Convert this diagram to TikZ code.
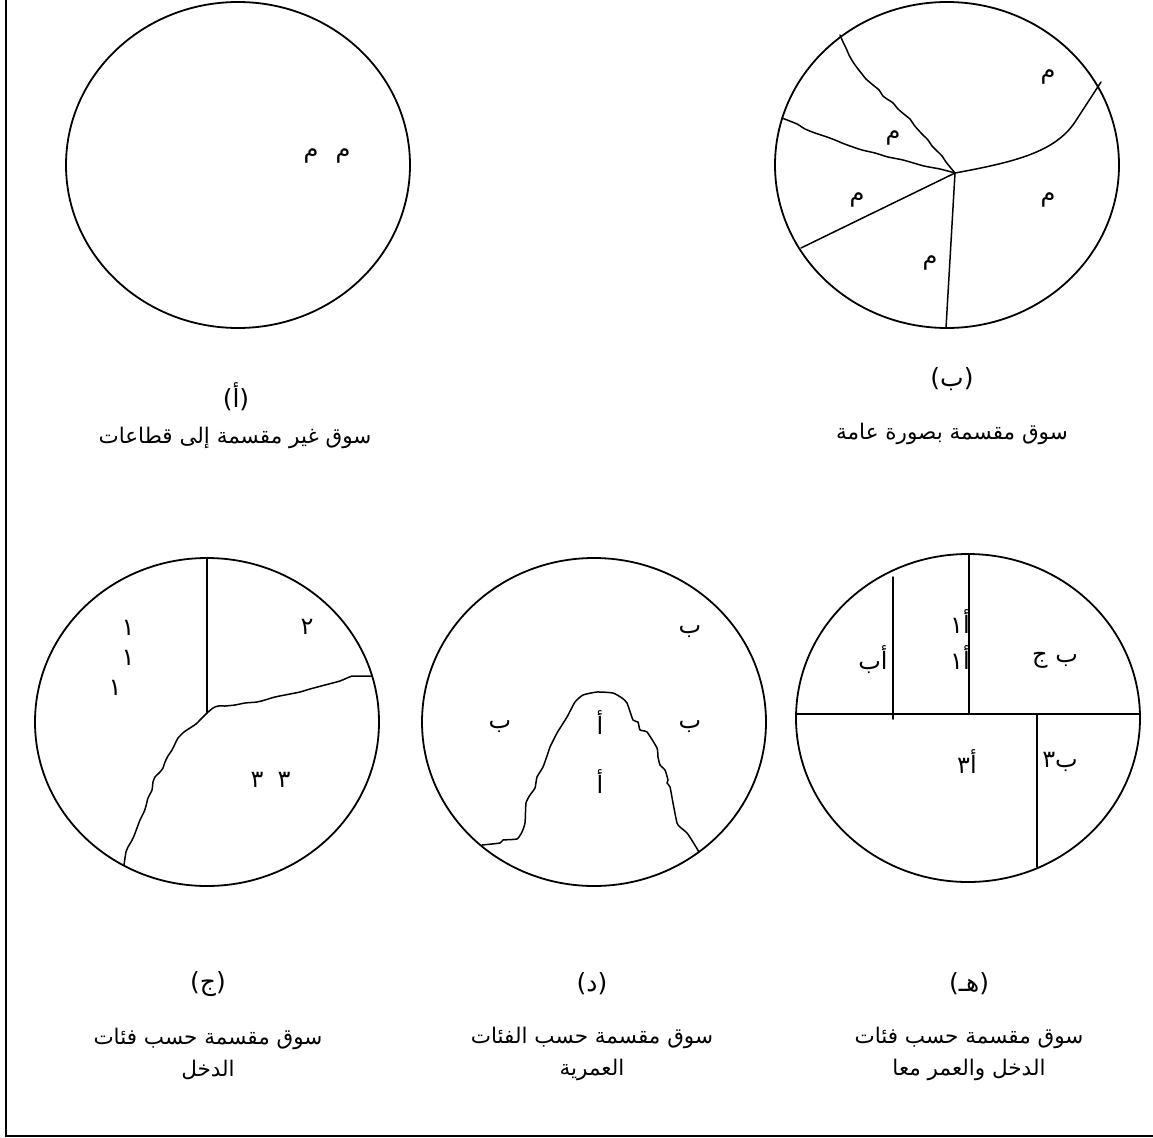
\documentclass[tikz,border=0pt]{standalone}
\usepackage{fontspec}
\newfontfamily\arabicfont[Script=Arabic]{DejaVu Sans}
\newfontfamily\parenfont{DejaVu Sans}
\TeXXeTstate=1
\newcommand{\artxt}[1]{{\arabicfont\beginR #1\endR}}

\begin{document}
\begin{tikzpicture}[
    x=1pt, y=-1pt,
    rim/.style={line width=1.8pt},
    cut/.style={line width=1.5pt, line join=round, line cap=round},
    tag/.style={font=\fontsize{24}{26}\selectfont, inner sep=0pt},
    mark label/.style={font=\fontsize{25}{27}\selectfont\parenfont, inner sep=0pt},
    caption/.style={font=\fontsize{21.5}{32}\selectfont, align=center, inner sep=0pt}
]
\useasboundingbox (0,0) rectangle (1153,1137);
\draw[line width=2pt] (6,0) -- (6,1136) -- (1153,1136);

% centres of the five markets
\coordinate (Ac) at (238,165);
\coordinate (Bc) at (947,165);
\coordinate (Cc) at (207,722);
\coordinate (Dc) at (594,722);
\coordinate (Ec) at (968,718);

% (a)
\draw[rim] (Ac) ellipse [x radius=172pt, y radius=163pt];
\node[tag] (a1) at (311,156) {\artxt{م}};
\node[tag] (a2) at (343,156) {\artxt{م}};
\node[mark label] (alab) at (236,397) {(\artxt{أ})};
\node[caption] (acap) at (235,438) {\artxt{سوق غير مقسمة إلى قطاعات}};

% (b)
\draw[rim] (Bc) ellipse [x radius=172pt, y radius=163pt];
\coordinate (Bp) at (955,173);
\draw[cut] (Bp) -- (946,328);
\draw[cut] (Bp) -- (801,248);
\draw[cut] plot[smooth, tension=0.4] coordinates {(Bp) (940,169) (924,166) (903,160) (888,157) (875,153) (862,150) (850,146) (842,143) (835,140) (827,137) (815,133) (805,129) (797,124) (782,118)};
\draw[cut] plot[smooth, tension=0.4] coordinates {(Bp) (950,167) (946,162) (942,156) (936,150) (932,146) (928,140) (921,133) (914,125) (910,119) (905,115) (898,109) (893,103) (887,99) (883,96) (879,90) (873,85) (866,79) (862,74) (858,69) (853,62) (849,55) (846,48) (843,42) (840,35)};
\draw[cut] (Bp) .. controls (1015,162) and (1055,152) .. (1075,122) -- (1101,82);
\node[tag] (b1) at (1048,77) {\artxt{م}};
\node[tag] (b2) at (893,138) {\artxt{م}};
\node[tag] (b3) at (857,200) {\artxt{م}};
\node[tag] (b4) at (930,263) {\artxt{م}};
\node[tag] (b5) at (1048,200) {\artxt{م}};
\node[mark label] (blab) at (952,379) {(\artxt{ب})};
\node[caption] (bcap) at (952,434) {\artxt{سوق مقسمة بصورة عامة}};

% (c)
\draw[rim] (Cc) ellipse [x radius=172pt, y radius=164pt];
\coordinate (Cp) at (207,713);
\draw[cut] (207,558) -- (Cp);
\draw[cut] plot[smooth, tension=0.4] coordinates {(Cp) (213,708) (218,706) (225,706) (235,705) (245,703) (257,702) (265,700) (275,697) (290,694) (300,692) (310,689) (325,685) (340,681) (347,678) (352,676)} -- (372,676);
\draw[cut] plot[smooth, tension=0.4] coordinates {(Cp) (204,716) (200,720) (196,724) (190,728) (184,732) (178,738) (175,744) (172,750) (168,756) (165,762) (163,768) (160,772) (155,777) (153,782) (152,790) (148,798) (146,806) (144,812) (140,820) (137,828) (134,836) (131,842) (128,847) (126,852) (125,858) (124,865)};
\node[tag] (c1) at (128,628) {\artxt{١}};
\node[tag] (c2) at (128,658) {\artxt{١}};
\node[tag] (c3) at (115,688) {\artxt{١}};
\node[tag] (c4) at (307,627) {\artxt{٢}};
\node[tag] (c5) at (257,780) {\artxt{٣}};
\node[tag] (c6) at (284,780) {\artxt{٣}};
\node[mark label] (clab) at (208,984) {(\artxt{ج})};
\node[caption] (ccap) at (208,1054) {\artxt{سوق مقسمة حسب فئات}\\\artxt{الدخل}};

% (d)
\draw[rim] (Dc) ellipse [x radius=172pt, y radius=164pt];
\draw[cut] plot[smooth, tension=0.3] coordinates {(482,845) (500,843) (503,840) (517,839) (522,832) (525,823) (526,803) (530,795) (535,788) (537,777) (543,767) (548,753) (550,747) (557,733) (567,717) (575,702) (583,695) (597,692) (613,693) (622,698) (627,703) (633,720) (638,722) (640,730) (647,732) (657,748) (658,757) (660,765) (665,770) (668,780) (667,783) (670,787) (673,803) (677,823) (680,827) (687,833) (693,842) (699,852)};
\node[tag] (d1) at (690,632) {\artxt{ب}};
\node[tag] (d2) at (500,727) {\artxt{ب}};
\node[tag] (d3) at (690,727) {\artxt{ب}};
\node[tag] (d4) at (600,723) {\artxt{أ}};
\node[tag] (d5) at (600,782) {\artxt{أ}};
\node[mark label] (dlab) at (592,984) {(\artxt{د})};
\node[caption] (dcap) at (592,1054) {\artxt{سوق مقسمة حسب الفئات}\\\artxt{العمرية}};

% (e)
\draw[rim] (Ec) ellipse [x radius=172pt, y radius=164pt];
\coordinate (Ew) at (797,714);
\coordinate (Ee) at (1140,714);
\draw[cut] (Ew) -- (Ee);
\draw[cut] (969,554) -- (969,714);
\draw[cut] (893,577) -- (893,719);
\draw[cut] (1037,714) -- (1037,867);
\node[tag] (e1) at (873,660) {\artxt{أب}};
\node[tag] (e2) at (960,622) {\artxt{أ١}};
\node[tag] (e3) at (960,658) {\artxt{أ١}};
\node[tag] (e4) at (1055,660) {\artxt{ب ج}};
\node[tag] (e5) at (967,762) {\artxt{أ٣}};
\node[tag] (e6) at (1060,762) {\artxt{ب٣}};
\node[mark label] (elab) at (969,984) {(\artxt{هـ})};
\node[caption] (ecap) at (969,1054) {\artxt{سوق مقسمة حسب فئات}\\\artxt{الدخل والعمر معا}};
\end{tikzpicture}
\end{document}
